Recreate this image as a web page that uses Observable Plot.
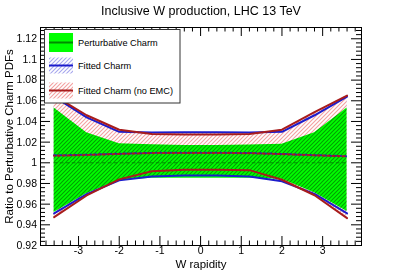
<!DOCTYPE html>
<html>
<head>
<meta charset="utf-8">
<script src="https://cdn.jsdelivr.net/npm/d3@7"></script>
<script src="https://cdn.jsdelivr.net/npm/@observablehq/plot@0.6"></script>
<style>
  html, body { margin: 0; padding: 0; background: white; }
  svg { font-family: "Liberation Sans", Arial, Helvetica, sans-serif; }
</style>
</head>
<body>
<div id="chart"></div>
<script>
// ---- data ----
const rapidity   = [-3.6, -2.8, -2.0, -1.2, -0.4, 0.4, 1.2, 2.0, 2.8, 3.6];
const pertLow    = [0.952, 0.970, 0.983, 0.985, 0.985, 0.985, 0.985, 0.984, 0.971, 0.953];
const pertHigh   = [1.053, 1.029, 1.0184, 1.0174, 1.0168, 1.0168, 1.0172, 1.018, 1.029, 1.053];
const pertCentral= [1.0, 1.0, 1.0, 1.0, 1.0, 1.0, 1.0, 1.0, 1.0, 1.0];
const fitLow     = [0.951, 0.9697, 0.983, 0.9868, 0.9878, 0.9878, 0.9868, 0.9822, 0.970, 0.951];
const fitHigh    = [1.064, 1.044, 1.030, 1.0294, 1.0296, 1.0296, 1.0292, 1.030, 1.046, 1.064];
const fitCentral = [1.0072, 1.0078, 1.0088, 1.0096, 1.0097, 1.0097, 1.0095, 1.0086, 1.0074, 1.0064];
const noEmcLow   = [0.9474, 0.9684, 0.984, 0.9919, 0.9932, 0.9932, 0.9929, 0.9836, 0.9686, 0.9465];
const noEmcHigh  = [1.065, 1.046, 1.032, 1.0278, 1.0275, 1.0275, 1.0278, 1.032, 1.049, 1.065];
const noEmcCentral=[1.0068, 1.0075, 1.0086, 1.0094, 1.0095, 1.0095, 1.0093, 1.0084, 1.0072, 1.0062];

const xMajorTicks = [-3, -2, -1, 0, 1, 2, 3];
const yMajorTicks = [0.92, 0.94, 0.96, 0.98, 1.0, 1.02, 1.04, 1.06, 1.08, 1.1, 1.12];
const titleText = "Inclusive W production, LHC 13 TeV";
const xLabel = "W rapidity";
const yLabel = "Ratio to Perturbative Charm PDFs";
const legendLabels = ["Perturbative Charm", "Fitted Charm", "Fitted Charm (no EMC)"];

// ---- tables built from arrays ----
const rows = rapidity.map((x, i) => ({
  x, pl: pertLow[i], ph: pertHigh[i], pc: pertCentral[i],
  fl: fitLow[i], fh: fitHigh[i], fc: fitCentral[i],
  nl: noEmcLow[i], nh: noEmcHigh[i], nc: noEmcCentral[i]
}));

const xMinorTicks = d3.range(-38, 39, 2).map(d => d / 10).filter(d => Math.abs(d - Math.round(d)) > 1e-9);
const yMinorTicks = d3.range(920, 1131, 4).map(d => d / 1000).filter(d => !yMajorTicks.some(t => Math.abs(t - d) < 1e-9));

const W = 401, H = 272, mL = 40, mR = 40, mT = 27, mB = 27;
const frameW = W - mL - mR, frameH = H - mT - mB;

const BLUE = "#1c1ccc", RED = "#a81c1c", GREEN = "#00ff00", DGREEN = "#008a00";
const PINK = "#f4a0a0", LBLUE = "#a6a6ee";

const fmtY = d => String(+d.toFixed(2));
const fmtX = d => String(d);

const chart = Plot.plot({
  width: W, height: H,
  marginLeft: mL, marginRight: mR, marginTop: mT, marginBottom: mB,
  style: { fontFamily: "'Liberation Sans', Arial, sans-serif", background: "white" },
  x: { domain: [-3.935, 3.955], label: null, axis: null },
  y: { domain: [0.92, 1.1309], label: null, axis: null },
  marks: [
    // hatched fitted bands
    Plot.areaY(rows, { x: "x", y1: "fl", y2: "fh", fill: "url(#hatchBlue)" }),
    Plot.areaY(rows, { x: "x", y1: "nl", y2: "nh", fill: "url(#hatchRed)" }),
    // perturbative band (solid green, multiplied over hatching)
    Plot.areaY(rows, { x: "x", y1: "pl", y2: "ph", fill: GREEN, mixBlendMode: "multiply" }),
    Plot.line(rows, { x: "x", y: "pc", stroke: DGREEN, strokeWidth: 1, strokeDasharray: "3,3" }),
    // central values (dotted)
    Plot.line(rows, { x: "x", y: "fc", stroke: BLUE, strokeWidth: 2, strokeDasharray: "2,3" }),
    Plot.line(rows, { x: "x", y: "nc", stroke: RED, strokeWidth: 2, strokeDasharray: "2,3", strokeDashoffset: 1.5 }),
    // band edges
    Plot.line(rows, { x: "x", y: "fh", stroke: BLUE, strokeWidth: 2 }),
    Plot.line(rows, { x: "x", y: "fl", stroke: BLUE, strokeWidth: 2 }),
    Plot.line(rows, { x: "x", y: "nh", stroke: RED, strokeWidth: 2 }),
    Plot.line(rows, { x: "x", y: "nl", stroke: RED, strokeWidth: 2 }),
    // frame and inward ticks
    Plot.frame({ stroke: "black", strokeWidth: 1 }),
    Plot.ruleX(xMajorTicks, { x: d => d, insetTop: frameH - 9, stroke: "black" }),
    Plot.ruleX(xMajorTicks, { x: d => d, insetBottom: frameH - 9, stroke: "black" }),
    Plot.ruleX(xMinorTicks, { x: d => d, insetTop: frameH - 4.5, stroke: "black" }),
    Plot.ruleX(xMinorTicks, { x: d => d, insetBottom: frameH - 4.5, stroke: "black" }),
    Plot.ruleY(yMajorTicks, { y: d => d, insetRight: frameW - 10, stroke: "black" }),
    Plot.ruleY(yMajorTicks, { y: d => d, insetLeft: frameW - 10, stroke: "black" }),
    Plot.ruleY(yMinorTicks, { y: d => d, insetRight: frameW - 5, stroke: "black" }),
    Plot.ruleY(yMinorTicks, { y: d => d, insetLeft: frameW - 5, stroke: "black" }),
    // tick labels
    Plot.axisX(xMajorTicks, { anchor: "bottom", tickSize: 0, tickPadding: 1, tickFormat: fmtX, fontSize: 10.5, label: null }),
    Plot.axisY(yMajorTicks, { anchor: "left", tickSize: 0, tickPadding: 3.5, tickFormat: fmtY, fontSize: 10.5, label: null }),
    // titles
    Plot.text([titleText], { frameAnchor: "top", lineAnchor: "middle", dy: -17, text: d => d, fontSize: 12.5, fill: "black" }),
    Plot.text([xLabel], { frameAnchor: "bottom", lineAnchor: "middle", dy: 18.5, text: d => d, fontSize: 11.5, fill: "black" }),
    Plot.text([yLabel], { frameAnchor: "left", textAnchor: "middle", lineAnchor: "middle", dx: -31, rotate: -90, text: d => d, fontSize: 11.5, fill: "black" })
  ]
});

document.getElementById("chart").appendChild(chart);

// ---- hatch patterns ----
const svg = d3.select(chart);
const defs = svg.insert("defs", ":first-child");
function hatch(id, color, bg) {
  const p = defs.append("pattern").attr("id", id)
    .attr("patternUnits", "userSpaceOnUse").attr("width", 4).attr("height", 4);
  if (bg) p.append("rect").attr("width", 4).attr("height", 4).attr("fill", bg);
  p.append("path").attr("d", "M-1,1 L1,-1 M0,4 L4,0 M3,5 L5,3")
    .attr("stroke", color).attr("stroke-width", 1.1).attr("fill", "none");
}
hatch("hatchBlue", LBLUE, null);
hatch("hatchRed", PINK, "white");

// ---- legend ----
const lg = svg.append("g").attr("font-family", "'Liberation Sans', Arial, sans-serif").attr("text-anchor", "start");
lg.append("rect").attr("x", 44.5).attr("y", 29.5).attr("width", 135.5).attr("height", 73.5)
  .attr("fill", "white").attr("stroke", "#333").attr("stroke-width", 1);
const entries = [
  { fill: GREEN, line: DGREEN, cy: 42.5, h: 19 },
  { fill: "url(#hatchBlue)", line: BLUE, cy: 65.5, h: 16 },
  { fill: "url(#hatchRed)", line: RED, cy: 90.5, h: 16 }
];
entries.forEach((e, i) => {
  lg.append("rect").attr("x", 49).attr("y", e.cy - e.h / 2).attr("width", 24).attr("height", e.h).attr("fill", e.fill);
  lg.append("line").attr("x1", 49).attr("x2", 73).attr("y1", e.cy).attr("y2", e.cy)
    .attr("stroke", e.line).attr("stroke-width", 2);
  lg.append("text").attr("x", 78).attr("y", e.cy).attr("dy", "0.35em").attr("text-anchor", "start")
    .attr("font-size", 9.2).attr("fill", "black").text(legendLabels[i]);
});
</script>
</body>
</html>
